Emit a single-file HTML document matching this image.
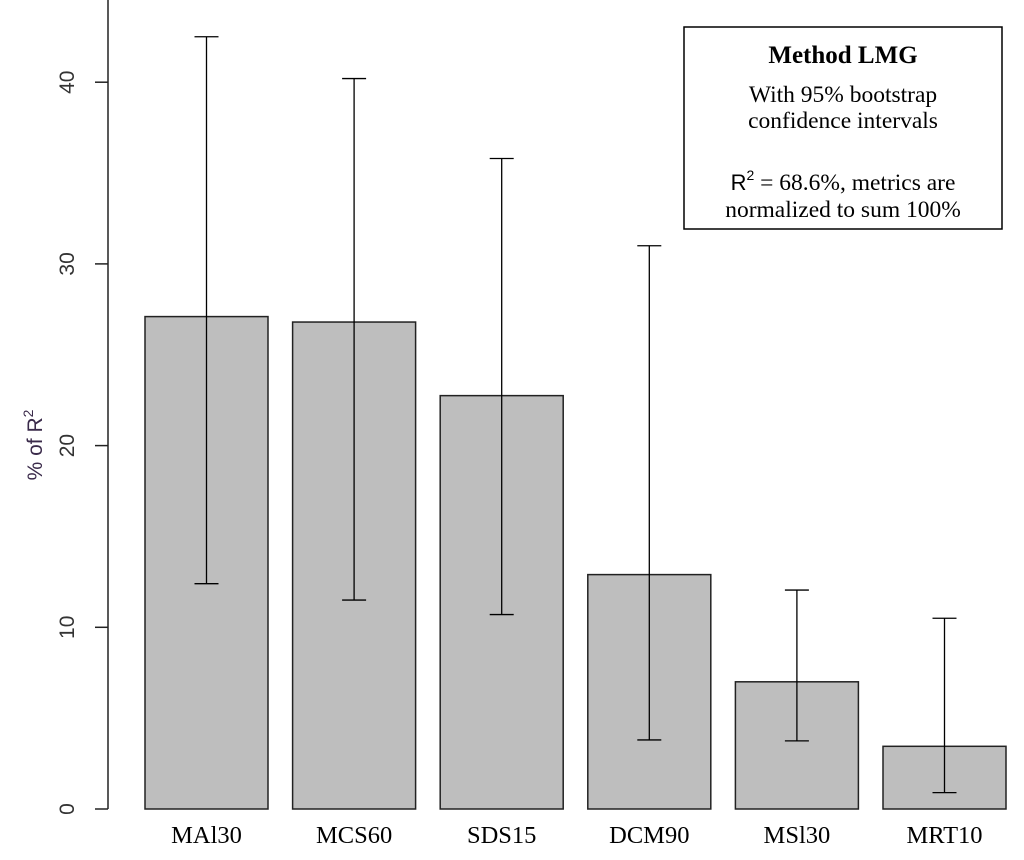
<!DOCTYPE html>
<html><head><meta charset="utf-8"><style>
html,body{margin:0;padding:0;background:#fff;}
svg{display:block;}
</style></head><body>
<svg id="chart" width="1024" height="860" font-family="Liberation Sans, sans-serif">
  <g id="bars"></g>
  <g id="errs"></g>
  <g id="yaxis"></g>
  <g id="xlabels"></g>
  <text transform="translate(42,445) rotate(-90)" text-anchor="middle" font-size="21" fill="#3a2a4a">% of R<tspan dy="-9" font-size="14">2</tspan></text>
  <g font-family="Liberation Serif, serif" text-anchor="middle">
    <rect x="684" y="27" width="318" height="202" fill="#fff" stroke="#000" stroke-width="1.5"/>
    <text x="843" y="63" font-size="25" font-weight="bold">Method LMG</text>
    <text x="843" y="102" font-size="23.5">With 95% bootstrap</text>
    <text x="843" y="128" font-size="23.5">confidence intervals</text>
    <text x="843" y="190" font-size="23.5"><tspan font-family="Liberation Sans, sans-serif" font-size="22">R</tspan><tspan dy="-10" font-family="Liberation Sans, sans-serif" font-size="14">2</tspan><tspan dy="10"> = 68.6%, metrics are</tspan></text>
    <text x="843" y="217" font-size="23.5">normalized to sum 100%</text>
  </g>
</svg>
<script>
const categories = ["MAl30","MCS60","SDS15","DCM90","MSl30","MRT10"];
const values = [27.1, 26.8, 22.75, 12.9, 7.0, 3.45];
const lowerCI = [12.4, 11.5, 10.7, 3.8, 3.75, 0.9];
const upperCI = [42.5, 40.2, 35.8, 31.0, 12.05, 10.5];
const yTicks = [0, 10, 20, 30, 40];

const NS = "http://www.w3.org/2000/svg";
const y0 = 809, pxPerUnit = 18.17;
function yScale(v){ return y0 - v * pxPerUnit; }
const barStart = 145, barStep = 147.6, barW = 123;
function xLeft(i){ return barStart + i * barStep; }
function mk(tag, attrs, parent){
  const e = document.createElementNS(NS, tag);
  for (const k in attrs) e.setAttribute(k, attrs[k]);
  parent.appendChild(e); return e;
}
const bars = document.getElementById('bars');
const errs = document.getElementById('errs');
const yaxis = document.getElementById('yaxis');
const xl = document.getElementById('xlabels');

categories.forEach((c, i) => {
  const x = xLeft(i), top = yScale(values[i]);
  const r = mk('rect', {x: x, y: top, width: barW, height: y0 - top, fill: '#bebebe', stroke: '#222', 'stroke-width': 1.5}, bars);
  
  
  const cx = x + barW / 2, yl = yScale(lowerCI[i]), yu = yScale(upperCI[i]);
  const g = mk('g', {stroke: '#000', 'stroke-width': 1.3}, errs);
  
  
  mk('line', {x1: cx, x2: cx, y1: yl, y2: yu}, g);
  mk('line', {x1: cx - 12, x2: cx + 12, y1: yl, y2: yl}, g);
  mk('line', {x1: cx - 12, x2: cx + 12, y1: yu, y2: yu}, g);
  const t = mk('text', {x: cx, y: 843, 'text-anchor': 'middle', 'font-size': 24.5, 'font-family': 'Liberation Serif, serif'}, xl);
  t.textContent = c;
  
  
});

mk('line', {x1: 108, x2: 108, y1: yScale(yTicks[0]), y2: 0, stroke: '#222', 'stroke-width': 1.5}, yaxis);
yTicks.forEach(v => {
  const y = yScale(v);
  mk('line', {x1: 95, x2: 108, y1: y, y2: y, stroke: '#222', 'stroke-width': 1.5}, yaxis);
  const t = mk('text', {transform: 'translate(74,' + y + ') rotate(-90)', 'text-anchor': 'middle', 'font-size': 21, fill: '#333'}, yaxis);
  t.textContent = v;
  
  
});
</script>
</body></html>
